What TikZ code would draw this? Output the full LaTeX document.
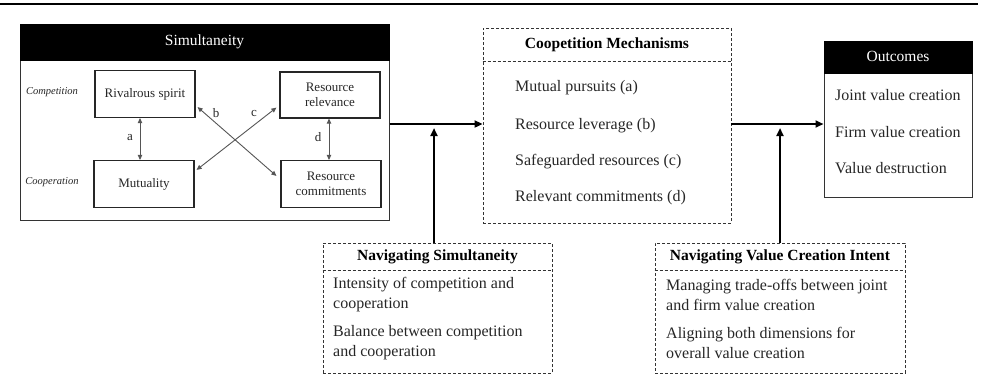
\documentclass[tikz,border=0pt]{standalone}
\usepackage{fontspec}
\setmainfont{Liberation Serif}
\usetikzlibrary{arrows.meta, positioning, calc}

\definecolor{FigText}{HTML}{262626}
\definecolor{FigLine}{HTML}{555555}

\tikzset{
   headbox/.style={draw=black, fill=black, text=white, inner sep=0pt, font=\fontsize{15.5}{18}\selectfont},
   factbox/.style={draw=black!85, line width=1.2pt, inner sep=0pt, minimum width=100pt, minimum height=47pt,
      align=center, text=FigText, font=\fontsize{13}{15.5}\selectfont},
   dashbox/.style={draw=black!80, line width=0.9pt, dash pattern=on 3pt off 2pt, inner sep=0pt},
   boxtitle/.style={text=black, font=\fontsize{15.5}{18}\selectfont\bfseries},
   item/.style={anchor=west, inner sep=0pt, align=left, text=FigText, font=\fontsize{16}{20}\selectfont},
   side/.style={text=FigText, font=\fontsize{10.5}{12}\selectfont\itshape},
   tag/.style={text=FigText, font=\fontsize{13}{15}\selectfont},
   flow/.style={-{Triangle[length=8pt,width=7pt]}, line width=2pt},
   link/.style={{Triangle[length=5pt,width=4.5pt]}-{Triangle[length=5pt,width=4.5pt]}, line width=0.9pt, FigLine}
}

\begin{document}
\begin{tikzpicture}[x=1pt, y=-1pt]
   \useasboundingbox (0,0) rectangle (981,389);
   \draw[line width=1.5pt] (0,4) -- (978,4);
   \coordinate (flowy) at (0,124);

   % Simultaneity
   \node[draw=black!80, line width=1pt, minimum width=369pt, minimum height=196pt, inner sep=0pt] (sim) at (204.5,122) {};
   \node[headbox, minimum width=369pt, minimum height=36pt, anchor=north] (simhead) at (sim.north) {Simultaneity};
   \node[factbox] (rival) at (145,94) {Rivalrous spirit};
   \node[factbox, minimum height=46pt] (relev) at (330,95) {Resource\\relevance};
   \node[factbox] (mutual) at (144,184) {Mutuality};
   \node[factbox] (commit) at (331,184) {Resource\\commitments};
   \node[side] (comp) at (52,92) {Competition};
   \node[side] (coop) at (52,182) {Cooperation};

   \draw[link] ([xshift=-5pt]rival.south) -- ([xshift=-4pt]mutual.north);
   \draw[link] ([xshift=-1pt]relev.south) -- ([xshift=-2pt]commit.north);
   \draw[link] ($(rival.south east)+(2,-11)$) -- ($(commit.north west)+(-4,16)$);
   \draw[link] ($(relev.south west)+(-3,-11)$) -- ($(mutual.north east)+(2,10)$);
   \node[tag] (la) at (130,138) {a};
   \node[tag] (lb) at (216,113) {b};
   \node[tag] (lc) at (254,113) {c};
   \node[tag] (ld) at (318,137) {d};

   % Coopetition mechanisms
   \node[dashbox, minimum width=248pt, minimum height=195pt] (mech) at (607,125.5) {};
   \draw[dashbox] ([yshift=-34pt]mech.north west) -- ([yshift=-34pt]mech.north east);
   \node[boxtitle] (mechtitle) at (607,45) {Coopetition Mechanisms};
   \node[item] (mech1) at (515,88) {Mutual pursuits (a)};
   \node[item] (mech2) at (515,126) {Resource leverage (b)};
   \node[item] (mech3) at (515,162) {Safeguarded resources (c)};
   \node[item] (mech4) at (515,198) {Relevant commitments (d)};

   % Outcomes
   \node[draw=black!80, line width=1pt, minimum width=148pt, minimum height=156pt, inner sep=0pt] (outc) at (898,119) {};
   \node[headbox, minimum width=148pt, minimum height=32pt, anchor=north] (outchead) at (outc.north) {Outcomes};
   \node[item] (out1) at (835,95) {Joint value creation};
   \node[item] (out2) at (835,132) {Firm value creation};
   \node[item] (out3) at (835,168) {Value destruction};

   % Navigating boxes
   \node[dashbox, minimum width=229pt, minimum height=130pt] (navsim) at (437.5,308) {};
   \draw[dashbox] ([yshift=-28pt]navsim.north west) -- ([yshift=-28pt]navsim.north east);
   \node[boxtitle] (navsimtitle) at (437.5,257) {Navigating Simultaneity};
   \node[item] (navsim1) at (333,295) {Intensity of competition and\\cooperation};
   \node[item] (navsim2) at (333,343) {Balance between competition\\and cooperation};

   \node[dashbox, minimum width=250pt, minimum height=130pt] (navval) at (780,308) {};
   \draw[dashbox] ([yshift=-28pt]navval.north west) -- ([yshift=-28pt]navval.north east);
   \node[boxtitle] (navvaltitle) at (780,257) {Navigating Value Creation Intent};
   \node[item] (navval1) at (666,295) {Managing trade-offs between joint\\and firm value creation};
   \node[item] (navval2) at (666,343) {Aligning both dimensions for\\overall value creation};

   % flows
   \draw[flow] (sim.east |- flowy) -- (mech.west |- flowy);
   \draw[flow] (mech.east |- flowy) -- (outc.west |- flowy);
   \draw[flow] ([xshift=-3.5pt]navsim.north) -- ([xshift=-3.5pt, yshift=-4pt]navsim.north |- flowy);
   \draw[flow] (navval.north) -- ([yshift=-4pt]navval.north |- flowy);
\end{tikzpicture}
\end{document}
